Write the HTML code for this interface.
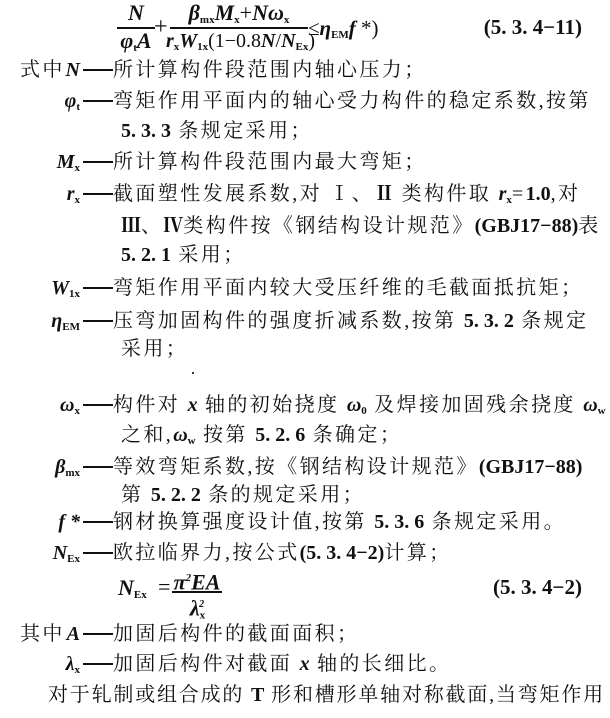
<!DOCTYPE html>
<html><head><meta charset="utf-8"><style>
body{margin:0;width:610px;height:718px;background:#fff;position:relative;overflow:hidden;font-family:"Liberation Serif","Noto Serif CJK SC",serif;color:#111}
.l{position:absolute;font-size:20px;line-height:24px;white-space:nowrap;letter-spacing:2.4px}
.lab{position:absolute;font-size:20px;line-height:24px;white-space:nowrap;text-align:right;width:80px;left:0;font-style:italic;font-weight:bold}
.d{position:absolute;left:83px;width:30px;height:2px;background:#111}
.i{font-style:italic;font-weight:bold;letter-spacing:0}
sub{font-size:11px;vertical-align:-3px;font-style:normal}
b{font-weight:bold;letter-spacing:0}
.fr{position:absolute;text-align:center;font-size:22px;line-height:24px;white-space:nowrap}
.fl{position:absolute;height:1.5px;background:#111}
.eq{position:absolute;left:380px;width:202px;text-align:right;font-size:21px;line-height:24px;font-weight:bold;white-space:nowrap}
</style></head><body>
<div class="fr i" style="left:117px;top:1px;width:38px">N</div>
<div class="fl" style="left:117px;top:27px;width:38px"></div>
<div class="fr i" style="left:117px;top:29px;width:38px">φ<sub>t</sub>A</div>
<div class="l" style="left:154px;top:15px;font-size:24px">+</div>
<div class="fr" style="left:170px;top:1px;width:138px"><span class="i">β<sub>mx</sub>M<sub>x</sub></span>+<span class="i">Nω<sub>x</sub></span></div>
<div class="fl" style="left:170px;top:27px;width:138px"></div>
<div class="fr" style="left:166px;top:29px;width:146px;font-size:20px"><span class="i">r<sub>x</sub>W<sub>1x</sub></span>(1−0.8<span class="i">N</span>/<span class="i">N<sub>Ex</sub></span>)</div>
<div class="l" style="left:308px;top:16px;letter-spacing:0;font-size:21px">≤<span class="i">η<sub>EM</sub>f</span> *)</div>
<div class="eq" style="top:15px">(5. 3. 4−11)</div>

<div class="l" style="left:20px;top:58px">式中</div>
<div class="lab" style="top:58px">N</div><div class="d" style="top:69px"></div>
<div class="l" style="left:113px;top:58px">所计算构件段范围内轴心压力；</div>

<div class="lab" style="top:89px">φ<sub>t</sub></div><div class="d" style="top:100px"></div>
<div class="l" style="left:113px;top:89px">弯矩作用平面内的轴心受力构件的稳定系数,按第</div>
<div class="l" style="left:121px;top:119px"><b>5. 3. 3</b> 条规定采用；</div>

<div class="lab" style="top:150px">M<sub>x</sub></div><div class="d" style="top:161px"></div>
<div class="l" style="left:113px;top:150px">所计算构件段范围内最大弯矩；</div>

<div class="lab" style="top:182px">r<sub>x</sub></div><div class="d" style="top:193px"></div>
<div class="l" style="left:113px;top:182px">截面塑性发展系数,对 Ⅰ、<b>Ⅱ</b> 类构件取 <span class="i">r<sub>x</sub></span>=<b>1.0</b>,对</div>
<div class="l" style="left:121px;top:214px"><b>Ⅲ</b>、<b>Ⅳ</b>类构件按《钢结构设计规范》<b>(GBJ17−88)</b>表</div>
<div class="l" style="left:121px;top:243px"><b>5. 2. 1</b> 采用；</div>

<div class="lab" style="top:276px">W<sub>1x</sub></div><div class="d" style="top:287px"></div>
<div class="l" style="left:113px;top:276px">弯矩作用平面内较大受压纤维的毛截面抵抗矩；</div>

<div class="lab" style="top:309px">η<sub>EM</sub></div><div class="d" style="top:320px"></div>
<div class="l" style="left:113px;top:309px">压弯加固构件的强度折减系数,按第 <b>5. 3. 2</b> 条规定</div>
<div class="l" style="left:121px;top:337px">采用；</div>
<div style="position:absolute;left:192px;top:372px;width:2px;height:2px;background:#333"></div>

<div class="lab" style="top:393px">ω<sub>x</sub></div><div class="d" style="top:404px"></div>
<div class="l" style="left:113px;top:393px">构件对 <span class="i">x</span> 轴的初始挠度 <span class="i">ω<sub>0</sub></span> 及焊接加固残余挠度 <span class="i">ω<sub>w</sub></span></div>
<div class="l" style="left:121px;top:423px">之和,<span class="i">ω<sub>w</sub></span> 按第 <b>5. 2. 6</b> 条确定；</div>

<div class="lab" style="top:455px">β<sub>mx</sub></div><div class="d" style="top:466px"></div>
<div class="l" style="left:113px;top:455px">等效弯矩系数,按《钢结构设计规范》<b>(GBJ17−88)</b></div>
<div class="l" style="left:121px;top:483px">第 <b>5. 2. 2</b> 条的规定采用；</div>

<div class="lab" style="top:510px">f *</div><div class="d" style="top:521px"></div>
<div class="l" style="left:113px;top:510px">钢材换算强度设计值,按第 <b>5. 3. 6</b> 条规定采用。</div>

<div class="lab" style="top:541px">N<sub>Ex</sub></div><div class="d" style="top:552px"></div>
<div class="l" style="left:113px;top:541px">欧拉临界力,按公式<b>(5. 3. 4−2)</b>计算；</div>

<div class="l i" style="left:118px;top:576px;font-size:22px">N<sub>Ex</sub></div>
<div class="l" style="left:158px;top:575px;font-size:22px">=</div>
<div class="fr i" style="left:172px;top:566px;width:50px">π<sup style="font-size:11px">2</sup>EA</div>
<div class="fl" style="left:172px;top:591px;width:50px"></div>
<div class="fr i" style="left:172px;top:593px;width:50px">λ<sub>x</sub><sup style="font-size:10px;margin-left:-6px">2</sup></div>
<div class="eq" style="top:575px">(5. 3. 4−2)</div>

<div class="l" style="left:20px;top:622px">其中</div>
<div class="lab" style="top:622px">A</div><div class="d" style="top:633px"></div>
<div class="l" style="left:113px;top:622px">加固后构件的截面面积；</div>

<div class="lab" style="top:652px">λ<sub>x</sub></div><div class="d" style="top:663px"></div>
<div class="l" style="left:113px;top:652px">加固后构件对截面 <span class="i">x</span> 轴的长细比。</div>

<div class="l" style="left:48px;top:683px;letter-spacing:1.8px">对于轧制或组合成的 <b>T</b> 形和槽形单轴对称截面,当弯矩作用</div>
</body></html>
